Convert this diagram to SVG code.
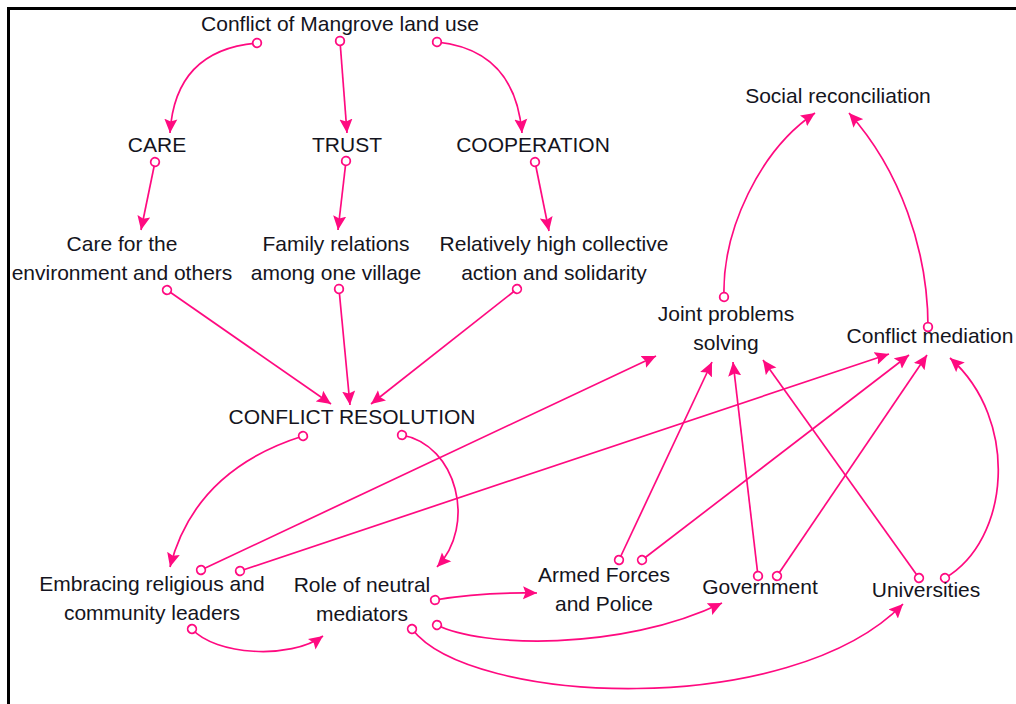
<svg xmlns="http://www.w3.org/2000/svg" width="1016" height="704" viewBox="0 0 1016 704">
  <style>
    .lbl { font-family: "Liberation Sans", Arial, sans-serif; font-size: 21px; fill: #141420; text-anchor: middle; }
    .link { fill: none; stroke: #ff0a80; stroke-width: 1.7; marker-start: url(#tail); marker-end: url(#head); }
    .frame { stroke: #000; stroke-width: 3; }
  </style>
  <defs>
    <marker id="head" markerUnits="userSpaceOnUse" markerWidth="16" markerHeight="14" refX="14" refY="6.5" orient="auto" viewBox="0 0 16 13">
      <path d="M0,0 L14,6.5 L0,13 L2.5,6.5 Z" fill="#ff0a80"/>
    </marker>
    <marker id="tail" markerUnits="userSpaceOnUse" markerWidth="12" markerHeight="12" refX="0" refY="0" orient="auto" viewBox="-6 -6 12 12">
      <circle cx="0" cy="0" r="4.3" fill="#fff" stroke="#ff0a80" stroke-width="1.8"/>
    </marker>
  </defs>

  <rect width="1016" height="704" fill="#fff"/>
  <!-- frame -->
  <line class="frame" x1="7" y1="8.5" x2="1016" y2="8.5"/>
  <line class="frame" x1="8.5" y1="7" x2="8.5" y2="704"/>

  <!-- connectors -->
  <g id="links">
    <path class="link" d="M257,43 Q175,50 170,133"/>
    <path class="link" d="M340,41 L347,133"/>
    <path class="link" d="M437,42 Q515,50 522,133"/>
    <path class="link" d="M155,162 L141,230"/>
    <path class="link" d="M346,161 L338,230"/>
    <path class="link" d="M535,162 L549,231"/>
    <path class="link" d="M167,290 L331,404"/>
    <path class="link" d="M339,289 L350,405"/>
    <path class="link" d="M517,289 L371,404"/>
    <path class="link" d="M303,436 Q195,470 170,567"/>
    <path class="link" d="M402,435 C457,445 477,525 437,567"/>
    <path class="link" d="M201,570 L656,356"/>
    <path class="link" d="M240,571 L889,354"/>
    <path class="link" d="M724,297 C722,230 760,150 815,113"/>
    <path class="link" d="M928,327 C928,250 900,170 849,113"/>
    <path class="link" d="M619,560 L712,362"/>
    <path class="link" d="M642,560 L909,355"/>
    <path class="link" d="M758,576 L733,362"/>
    <path class="link" d="M777,576 L927,355"/>
    <path class="link" d="M919,578 L763,360"/>
    <path class="link" d="M945,578 C1010,540 1020,420 950,358"/>
    <path class="link" d="M192,629 C215,655 290,660 323,636"/>
    <path class="link" d="M435,600 Q480,592 537,593"/>
    <path class="link" d="M437,625 C480,647 620,652 722,603"/>
    <path class="link" d="M412,629 C470,705 790,720 903,604"/>
  </g>

  <!-- variables -->
  <g id="conflict-land-use"><text class="lbl" x="340" y="31">Conflict of Mangrove land use</text></g>
  <g id="care"><text class="lbl" x="157" y="152">CARE</text></g>
  <g id="trust"><text class="lbl" x="347" y="152">TRUST</text></g>
  <g id="cooperation"><text class="lbl" x="533" y="152">COOPERATION</text></g>
  <g id="care-environment"><text class="lbl" x="122" y="251">Care for the</text><text class="lbl" x="122" y="280">environment and others</text></g>
  <g id="family-relations"><text class="lbl" x="336" y="251">Family relations</text><text class="lbl" x="336" y="280">among one village</text></g>
  <g id="collective-action"><text class="lbl" x="554" y="251">Relatively high collective</text><text class="lbl" x="554" y="280">action and solidarity</text></g>
  <g id="social-reconciliation"><text class="lbl" x="838" y="103">Social reconciliation</text></g>
  <g id="joint-problem-solving"><text class="lbl" x="726" y="321">Joint problems</text><text class="lbl" x="726" y="350">solving</text></g>
  <g id="conflict-mediation"><text class="lbl" x="930" y="343">Conflict mediation</text></g>
  <g id="conflict-resolution"><text class="lbl" x="352" y="424">CONFLICT RESOLUTION</text></g>
  <g id="religious-leaders"><text class="lbl" x="152" y="591">Embracing religious and</text><text class="lbl" x="152" y="620">community leaders</text></g>
  <g id="neutral-mediators"><text class="lbl" x="362" y="592">Role of neutral</text><text class="lbl" x="362" y="621">mediators</text></g>
  <g id="armed-forces"><text class="lbl" x="604" y="582">Armed Forces</text><text class="lbl" x="604" y="611">and Police</text></g>
  <g id="government"><text class="lbl" x="760" y="594">Government</text></g>
  <g id="universities"><text class="lbl" x="926" y="597">Universities</text></g>
</svg>
